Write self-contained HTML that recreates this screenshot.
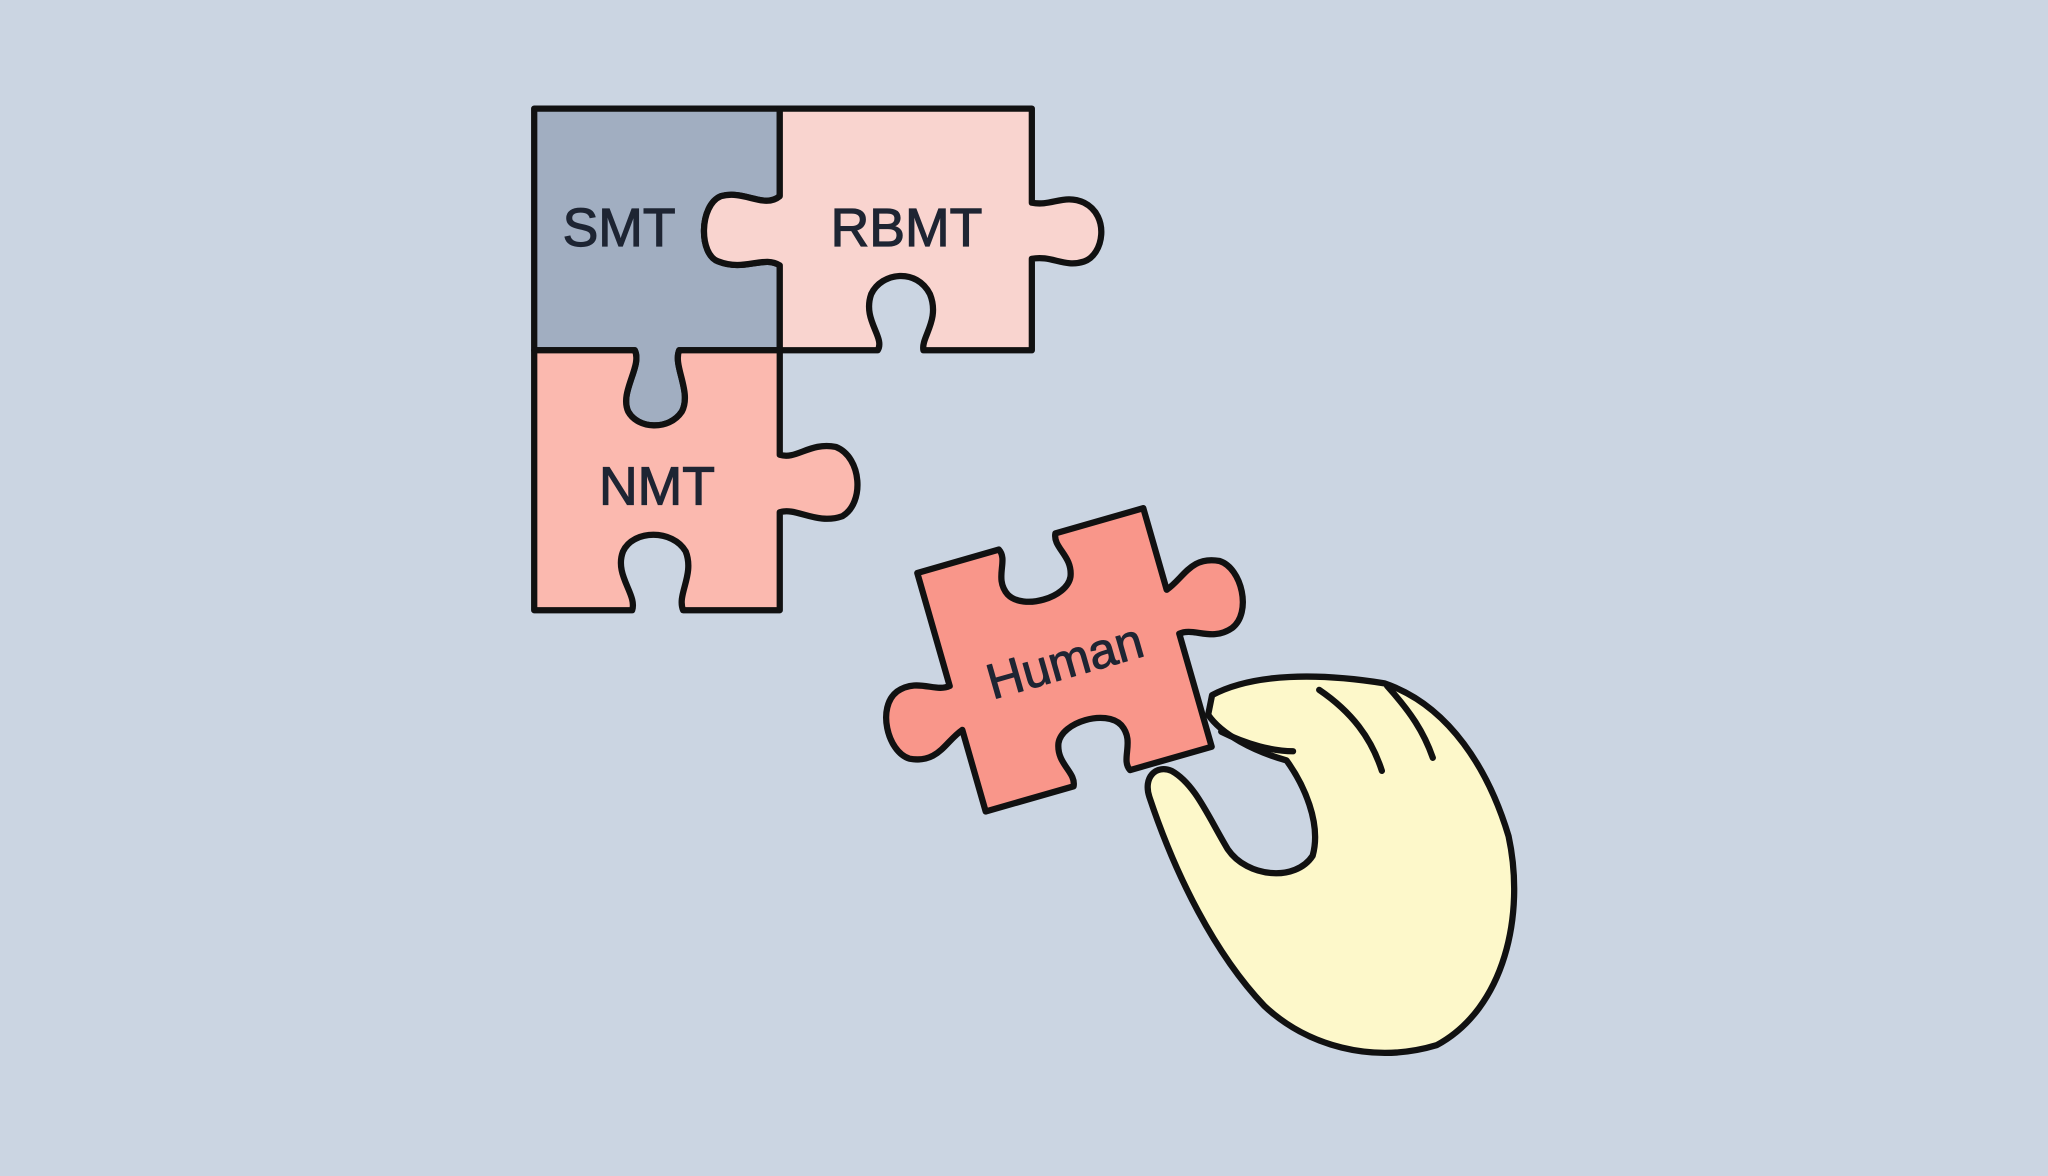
<!DOCTYPE html>
<html><head><meta charset="utf-8"><style>
html,body{margin:0;padding:0;background:#cbd5e2;}
svg{display:block}
text{font-family:"Liberation Sans",sans-serif;fill:#1e2533;}
</style></head><body>
<svg width="2048" height="1176" viewBox="0 0 1568 900" xmlns="http://www.w3.org/2000/svg">
<rect width="1568" height="900" fill="#cbd5e2"/>
<g stroke="#111" stroke-width="4.8" stroke-linejoin="round" stroke-linecap="round">
<!-- SMT -->
<path fill="#a1aec1" d="M409,83 L597,83 L597,150 C585,160 570,145 552,150 C535,157 535,195 550,200 C570,208 585,195 597,203 L597,268 L520,268 C515,280 530,300 522,315 C512,330 488,328 481,315 C474,300 492,280 486,268 L409,268 Z"/>
<!-- RBMT -->
<path fill="#f9d4cf" d="M597,83 L790,83 L790,155 C805,158 815,148 830,155 C850,165 845,195 830,200 C815,205 805,195 790,198 L790,268 L707,268 C705,258 720,245 712,225 C702,205 675,208 667,225 C660,245 678,258 672,268 L597,268 L597,203 C585,195 570,208 550,200 C535,195 535,157 552,150 C570,145 585,160 597,150 Z"/>
<!-- NMT -->
<path fill="#fbb9af" d="M409,268 L486,268 C492,280 474,300 481,315 C488,328 512,330 522,315 C530,300 515,280 520,268 L597,268 L597,348 C610,352 620,338 640,342 C660,350 662,385 645,395 C625,402 610,388 597,392 L597,467 L523,467 C518,455 532,440 525,422 C515,405 485,405 477,422 C470,440 488,455 484,467 L409,467 Z"/>
<!-- Human -->
<g transform="translate(815,505) rotate(-16)">
<path fill="#f9968a" d="M-90,-95 L-25,-95 C-20,-85 -35,-75 -28,-60 C-20,-45 15,-45 22,-60 C28,-75 15,-85 20,-95 L90,-95 L90,-30 C105,-35 115,-50 135,-40 C150,-30 148,5 130,12 C112,18 102,3 90,5 L90,95 L25,95 C20,85 35,75 28,60 C20,45 -15,45 -22,60 C-28,75 -15,85 -20,95 L-90,95 L-90,30 C-105,35 -115,50 -135,40 C-150,30 -148,-5 -130,-12 C-112,-18 -102,-3 -90,-5 Z"/>
<text x="0" y="14" font-size="38" text-anchor="middle" stroke="#1e2533" stroke-width="0.8">Human</text>
</g>
<!-- Hand -->
<path fill="#fdf8ca" d="M928,532 C960,515 1010,515 1060,523 C1110,540 1140,590 1155,640 C1168,700 1152,772 1100,800 C1050,815 1000,800 968,770 C930,730 900,670 880,610 C875,595 885,585 897,590 C915,600 925,625 940,650 C955,672 992,675 1005,655 C1012,630 998,600 985,582 C960,575 935,562 925,547 Z"/>
<path fill="none" d="M1010,528 C1035,545 1050,565 1058,590 M1062,525 C1080,545 1090,560 1097,580 M935,560 C955,570 975,575 990,575"/>
</g>
<g font-size="41" stroke="#1e2533" stroke-width="0.9">
<text x="474" y="188" text-anchor="middle">SMT</text>
<text x="694" y="188" text-anchor="middle">RBMT</text>
<text x="503" y="386" text-anchor="middle">NMT</text>
</g>
</svg>
</body></html>
